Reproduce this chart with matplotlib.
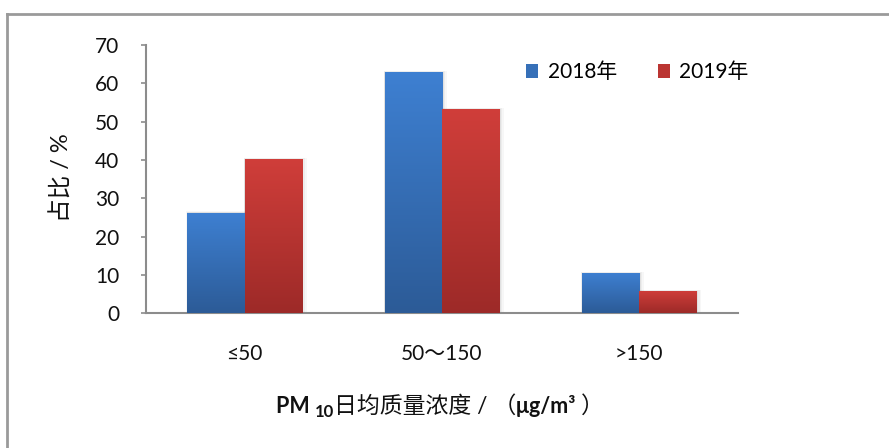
import matplotlib
matplotlib.use("Agg")
import matplotlib.pyplot as plt
import numpy as np
from matplotlib.patches import Rectangle
from matplotlib.colors import LinearSegmentedColormap
from matplotlib.lines import Line2D

categories = ["≤50", "50～150", ">150"]
series_names = ["2018年", "2019年"]
values_2018 = [26.2, 62.9, 10.5]
values_2019 = [40.2, 53.2, 5.8]
y_ticks = [0, 10, 20, 30, 40, 50, 60, 70]

FAMILY = ["Lato", "Noto Sans CJK SC", "DejaVu Sans"]
plt.rcParams["font.family"] = FAMILY

blue_top, blue_bot = "#3e80d2", "#2c5b97"
red_top, red_bot = "#d03e3a", "#9d2a28"

fig = plt.figure(figsize=(8.89, 4.48), dpi=100)
ax = fig.add_axes([146 / 889, 1 - 313.3 / 448, (738 - 146) / 889, (313.3 - 45) / 448])

# outer frame (left and top edges)
fig.add_artist(Line2D([7 / 889, 7 / 889], [0, 1 - 14 / 448], transform=fig.transFigure,
                      color="#9a9a9a", lw=2))
fig.add_artist(Line2D([7 / 889, 1], [1 - 14 / 448, 1 - 14 / 448], transform=fig.transFigure,
                      color="#9a9a9a", lw=2))

x = np.arange(len(categories))
w = 0.29


def gradient_bars(xs, heights, top, bot, label):
    bars = ax.bar(xs, heights, w, color="none", edgecolor="none", label=label, zorder=3)
    cmap = LinearSegmentedColormap.from_list("g", [bot, top])
    grad = np.linspace(0, 1, 256).reshape(-1, 1)
    for b in bars:
        x0, y0 = b.get_x(), b.get_y()
        bw, bh = b.get_width(), b.get_height()
        # soft shadow
        for k, a in enumerate([0.05, 0.04, 0.03]):
            d = 0.006 * (k + 1)
            ax.add_patch(Rectangle((x0 - d * 0.3, y0), bw + d * 1.6, bh + d * 20,
                                   facecolor="#000000", alpha=a, edgecolor="none", zorder=2))
        im = ax.imshow(grad, extent=(x0, x0 + bw, y0, y0 + bh), origin="lower",
                       cmap=cmap, aspect="auto", zorder=3)
        im.set_clip_path(b)
    return bars


gradient_bars(x - w / 2, values_2018, blue_top, blue_bot, series_names[0])
gradient_bars(x + w / 2, values_2019, red_top, red_bot, series_names[1])

ax.set_xlim(-0.5, len(categories) - 0.5)
ax.set_ylim(0, 70)
ax.set_yticks(y_ticks)
ax.set_xticks(x)
ax.set_xticklabels(categories)

for s in ["top", "right"]:
    ax.spines[s].set_visible(False)
for s in ["left", "bottom"]:
    ax.spines[s].set_color("#8c8c8c")
    ax.spines[s].set_linewidth(1.5)
ax.tick_params(axis="y", direction="out", length=3.6, width=1.2, color="#8c8c8c",
               labelsize=15, pad=15.5, labelcolor="#111111")
ax.tick_params(axis="x", length=0, labelsize=15, pad=22, labelcolor="#111111")

# legend
handles = [Rectangle((0, 0), 1, 1, facecolor=c) for c in ["#3670b8", "#bb3532"]]
ax.legend(handles, series_names, ncol=2, frameon=False, loc="upper left",
          bbox_to_anchor=(0.61, 1.005), fontsize=15, handlelength=0.6,
          handleheight=0.6, handletextpad=0.45, columnspacing=1.95)

# y label
fig.text(62 / 889, 1 - 178 / 448, "占比 / %", rotation=90, ha="center", va="center",
         fontsize=17, color="#111111")

# x label assembled from pieces with mixed weights
pieces = [
    ("PM ", "bold", 15.5, 0),
    ("10", "bold", 12, -4),
    ("日均质量浓度 / （", "normal", 16.5, 0),
    ("μg/m³ ", "bold", 15.5, 0),
    ("）", "normal", 16.5, 0),
]
texts = []
for s, wt, fs, dy in pieces:
    t = fig.text(0, 0, s, fontweight=wt, fontsize=fs, color="#111111", va="baseline", ha="left")
    texts.append((t, dy))
fig.canvas.draw()
r = fig.canvas.get_renderer()
widths = [t.get_window_extent(r).width for t, _ in texts]
total = sum(widths)
cx = 440
start = cx - total / 2
base_y = 448 - 413
pos = start
for (t, dy), wd in zip(texts, widths):
    t.set_position((pos / 889, (base_y + dy) / 448))
    pos += wd

fig.savefig("out.png", dpi=100, facecolor="white")
